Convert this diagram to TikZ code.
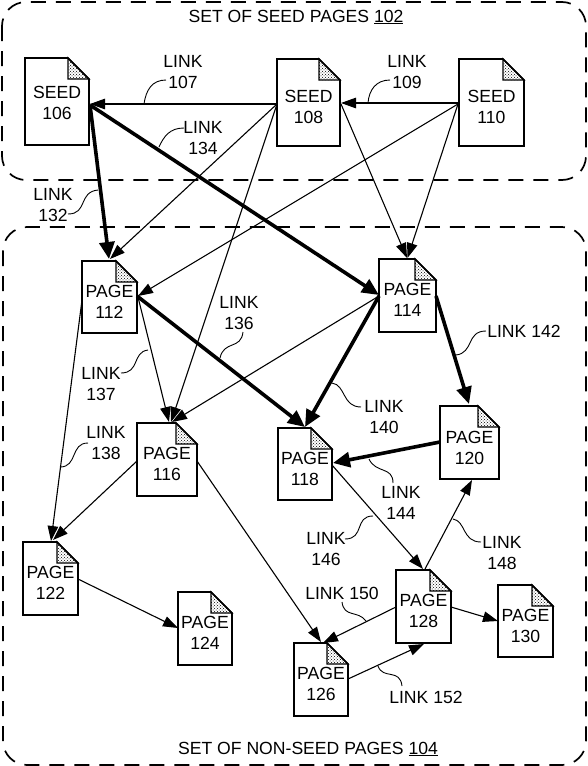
\documentclass[tikz,border=0pt]{standalone}
\usepackage{fontspec}
\setmainfont{Liberation Sans}
\usetikzlibrary{arrows.meta,patterns}
\tikzset{
  canvas/.style={x=1pt,y=-1pt},
  setbox/.style={draw=black,line width=1.7pt,rounded corners=24pt,dash pattern=on 15pt off 10pt},
  pageshape/.style={rectangle,inner sep=0pt,outer sep=0pt},
  pageline/.style={draw=black,line width=1.6pt,line join=miter},
  foldline/.style={draw=black,line width=1.4pt,pattern=crosshatch dots,pattern color=black},
  pagetext/.style={font=\fontsize{17.6}{21}\selectfont,align=center,inner sep=0pt},
  lbl/.style={font=\fontsize{17.6}{21}\selectfont,align=center,inner sep=0pt},
  thinlink/.style={draw=black,line width=1.1pt,-{Triangle[length=15pt,width=10.5pt]}},
  thicklink/.style={draw=black,line width=3.6pt,-{Triangle[length=17pt,width=15pt]}},
  leader/.style={draw=black,line width=0.9pt},
}
\newcommand{\docpage}[8]{% name, cx, cy, w, h, text-shift, line1, line2
  \node[pageshape,minimum width=#4pt,minimum height=#5pt,
        label={[pagetext,yshift=#6pt]center:#7\\#8}] (#1) at (#2,#3) {};
  \draw[pageline] (#1.north west) -- ([xshift=-21pt]#1.north east)
     -- ([yshift=-21pt]#1.north east) -- (#1.south east) -- (#1.south west) -- cycle;
  \draw[foldline] ([xshift=-21pt]#1.north east) -- ([yshift=-21pt]#1.north east)
     -- ([xshift=-21pt,yshift=-21pt]#1.north east) -- cycle;
}
\newcommand{\linkarrow}[7]{% style, from, dx, dy, to, dx, dy
  \draw[#1] ([shift={(#3,#4)}]#2.center) -- ([shift={(#6,#7)}]#5.center);
}
\newcommand{\leaderline}[5]{% name, start, c1, c2, end
  \coordinate (#1a) at (#2);
  \coordinate (#1b) at (#5);
  \draw[leader] (#1a) .. controls (#3) and (#4) .. (#1b);
}
\begin{document}
\begin{tikzpicture}[canvas]
\useasboundingbox (0,0) rectangle (588,766);
\draw[setbox] (2,2) rectangle (586,180);
\draw[setbox] (3,227) rectangle (586,765);
\node[lbl] (title1) at (296,17) {SET OF SEED PAGES \underline{102}};
\node[lbl] (title2) at (308,749) {SET OF NON-SEED PAGES \underline{104}};
% pages
\docpage{p106}{57}{101.5}{64}{87}{-1.5}{SEED}{106}
\docpage{p108}{308.5}{102.5}{63}{87}{-4}{SEED}{108}
\docpage{p110}{491.5}{102.5}{65}{87}{-4}{SEED}{110}
\docpage{p112}{109.5}{297}{55}{72}{-4.5}{PAGE}{112}
\docpage{p114}{407.5}{295.5}{57}{73}{-4.5}{PAGE}{114}
\docpage{p116}{167}{459.5}{60}{73}{-4.5}{PAGE}{116}
\docpage{p118}{305}{464}{54}{72}{-4.5}{PAGE}{118}
\docpage{p120}{469.5}{442.5}{59}{73}{-5.5}{PAGE}{120}
\docpage{p122}{50.5}{578.5}{55}{73}{-4.5}{PAGE}{122}
\docpage{p124}{205}{628.5}{54}{73}{-4.5}{PAGE}{124}
\docpage{p126}{321}{679.5}{54}{73}{-4.5}{PAGE}{126}
\docpage{p128}{423.5}{606.5}{55}{73}{-4.5}{PAGE}{128}
\docpage{p130}{525.5}{621}{55}{72}{-4.5}{PAGE}{130}
% links
\linkarrow{thinlink}{p108}{-31.5}{1.5}{p106}{33}{2.5}
\linkarrow{thinlink}{p110}{-33.5}{.5}{p108}{32.5}{.5}
\linkarrow{thinlink}{p108}{-31.5}{1.5}{p112}{.5}{-38}
\linkarrow{thinlink}{p108}{-31.5}{1.5}{p116}{4}{-37.5}
\linkarrow{thinlink}{p108}{32.5}{1.5}{p114}{-.5}{-37.5}
\linkarrow{thinlink}{p110}{-33.5}{1.5}{p114}{0}{-37.5}
\linkarrow{thinlink}{p110}{-33.5}{1.5}{p112}{28.5}{-1}
\linkarrow{thinlink}{p112}{28.5}{0}{p116}{2}{-37.5}
\linkarrow{thinlink}{p112}{-27.5}{3}{p122}{.5}{-37.5}
\linkarrow{thinlink}{p114}{-28.5}{.5}{p116}{5}{-37.5}
\linkarrow{thinlink}{p116}{-30}{1.5}{p122}{2.5}{-38.5}
\linkarrow{thinlink}{p116}{30}{1.5}{p126}{0}{-37.5}
\linkarrow{thinlink}{p118}{27}{1}{p128}{-.5}{-37.5}
\linkarrow{thinlink}{p128}{1.5}{-37.5}{p120}{2.5}{37.5}
\linkarrow{thinlink}{p128}{-27.5}{.5}{p126}{2}{-36.5}
\linkarrow{thinlink}{p126}{27}{-.5}{p128}{.5}{37.5}
\linkarrow{thinlink}{p128}{27.5}{.5}{p130}{-27.5}{0}
\linkarrow{thinlink}{p122}{27.5}{.5}{p124}{-27}{-.5}
\linkarrow{thicklink}{p106}{33}{3.5}{p112}{-.5}{-38}
\linkarrow{thicklink}{p106}{33}{3.5}{p114}{-28.5}{-.5}
\linkarrow{thicklink}{p112}{27.5}{-1}{p118}{0}{-37}
\linkarrow{thicklink}{p114}{-28.5}{.5}{p118}{0}{-37}
\linkarrow{thicklink}{p114}{28.5}{.5}{p120}{-.5}{-38.5}
\linkarrow{thicklink}{p120}{-29.5}{-.5}{p118}{28}{-1}
% labels
\node[lbl] (l107) at (183,72) {LINK\\107};
\node[lbl] (l109) at (407,72) {LINK\\109};
\node[lbl] (l134) at (203,138.5) {LINK\\134};
\node[lbl] (l132) at (53,205.5) {LINK\\132};
\node[lbl] (l136) at (239,313.5) {LINK\\136};
\node[lbl] (l137) at (101,384.5) {LINK\\137};
\node[lbl] (l138) at (106,443) {LINK\\138};
\node[lbl] (l140) at (384,417.5) {LINK\\140};
\node[lbl] (l142) at (524,331) {LINK 142};
\node[lbl] (l144) at (401,502.5) {LINK\\144};
\node[lbl] (l146) at (326,549.5) {LINK\\146};
\node[lbl] (l148) at (502,553) {LINK\\148};
\node[lbl] (l150) at (342,593) {LINK 150};
\node[lbl] (l152) at (426,697) {LINK 152};
% leaders
\leaderline{a}{166,80}{152,80}{146,90}{144,104}
\leaderline{b}{390,80}{376,80}{369,90}{368,103}
\leaderline{c}{184,128}{170,128}{164,136}{159,147}
\leaderline{d}{68,214}{88,214}{78,192}{98,190}
\leaderline{e}{243,332}{241,350}{224,340}{220,358}
\leaderline{f}{121,373}{140,373}{132,352}{148,350}
\leaderline{g}{88,443}{70,443}{78,467}{60,467}
\leaderline{h}{361,407}{342,407}{346,385}{332,383}
\leaderline{i}{486,331}{466,331}{474,353}{456,355}
\leaderline{j}{393,483}{393,466}{376,474}{369,459}
\leaderline{k}{345,539}{365,539}{354,516}{373,516}
\leaderline{m}{481,542}{462,542}{466,521}{453,519}
\leaderline{n}{342,602}{344,618}{358,610}{366,621}
\leaderline{o}{402,686}{400,668}{383,680}{378,666}
\end{tikzpicture}
\end{document}
